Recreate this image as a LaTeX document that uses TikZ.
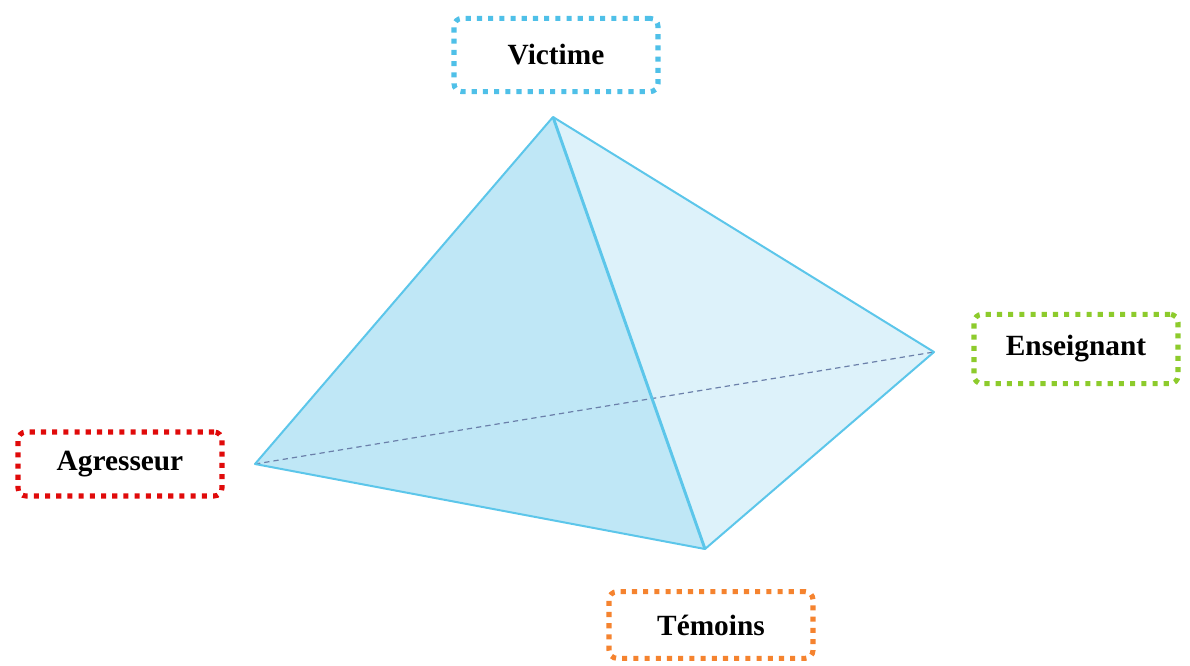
\documentclass[tikz,border=0pt]{standalone}
\usepackage{fontspec}
\setmainfont{Liberation Serif}

\definecolor{edgeblue}{HTML}{5CC6EA}
\definecolor{faceleft}{HTML}{BFE7F6}
\definecolor{faceright}{HTML}{DDF2FA}
\definecolor{hiddenline}{HTML}{6B80AA}
\definecolor{boxblue}{HTML}{4FC0E8}
\definecolor{boxred}{HTML}{E00A0A}
\definecolor{boxgreen}{HTML}{8DCB2C}
\definecolor{boxorange}{HTML}{F5832F}

\begin{document}
\begin{tikzpicture}[x=0.75pt,y=-0.75pt,
    rolebox/.style={draw=#1, line width=3.8pt, dash pattern=on 3.8pt off 4.6pt,
      rounded corners=6pt, fill=white, inner sep=0pt, minimum width=153pt,
      font=\bfseries\fontsize{22}{26}\selectfont}]

    \useasboundingbox (0,0) rectangle (1190,665);

    % points
    \coordinate (V) at (553,117);
    \coordinate (A) at (255,464);
    \coordinate (E) at (934,352);
    \coordinate (T) at (705,549);

    % faces
    \fill [faceleft] (A) -- (V) -- (T) -- cycle;
    \fill [faceright] (V) -- (E) -- (T) -- cycle;

    % hidden edge
    \draw [hiddenline, line width=0.9pt, dash pattern=on 4pt off 3pt] (A) -- (E);

    % edges
    \draw [edgeblue, line width=1.5pt, line join=round] (A) -- (V) -- (E) -- (T) -- cycle;
    \draw [edgeblue, line width=2.2pt] (V) -- (T);

    % labels
    \node [rolebox=boxblue, minimum height=55pt] (victime) at (556,55) {Victime};
    \node [rolebox=boxred, minimum height=48pt] (agresseur) at (120,464) {Agresseur};
    \node [rolebox=boxgreen, minimum height=52pt] (enseignant) at (1076,349) {Enseignant};
    \node [rolebox=boxorange, minimum height=50pt] (temoins) at (711,625) {Témoins};

\end{tikzpicture}
\end{document}
